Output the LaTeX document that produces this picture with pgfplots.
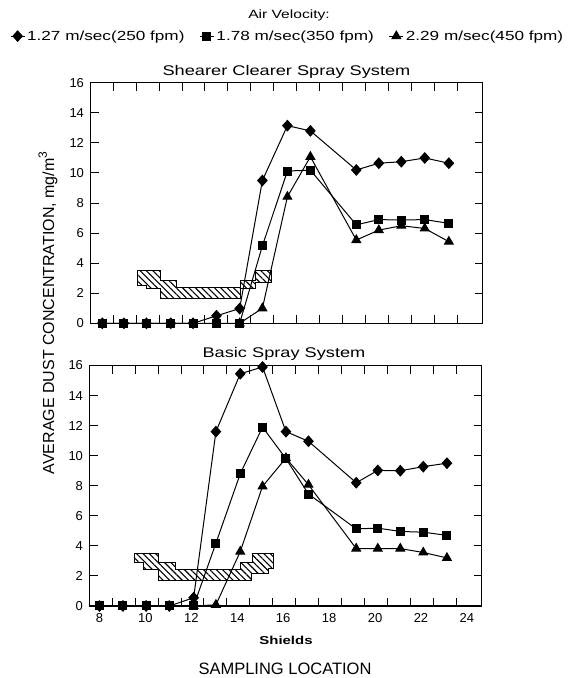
\documentclass[border=0pt]{standalone}
\usepackage{fontspec}
\setmainfont{Liberation Sans}
\newfontfamily\wide{Liberation Sans}[FakeStretch=1.3]
\usepackage{pgfplots}
\pgfplotsset{compat=1.18}
\usetikzlibrary{patterns.meta}

\pgfplotsset{
 dustaxis/.style={
  scale only axis, width=392pt, height=240.5pt, anchor=south west,
  xmin=7.565, xmax=24.635, ymin=0, ymax=16,
  xtick={8,10,...,24},
  minor xtick={8.55,9.55,10.55,11.55,12.55,13.55,14.55,15.55,16.55,17.55,18.55,19.55,20.55,21.55,22.55,23.55},
  major x tick style={draw=none},
  ytick={0,2,...,16},
  major tick length=8pt, minor tick length=8pt,
  tick style={line width=1pt, black},
  axis line style={line width=1.3pt},
  tick label style={font=\fontsize{13}{15}\selectfont},
  /pgf/number format/assume math mode=true,
  yticklabel style={xshift=-3pt},
  xticklabel style={yshift=-4pt},
 },
 ser/.style={black, line width=1pt, mark options={solid, fill=black}},
 hatch/.style={draw=black, line width=1pt, forget plot, mark=none,
   pattern={Lines[angle=-45,distance=4.5pt,line width=1.1pt]}},
}

\begin{document}
\begin{tikzpicture}
\path[use as bounding box] (0,0) rectangle (568pt,678pt);

% ---------- top panel ----------
\begin{axis}[dustaxis, at={(90.5pt,354.7pt)}, xticklabels={},
  legend columns=3,
  legend style={draw=none, fill=none, at={(axis description cs:0.503,1.194)}, anchor=center,
    font=\wide\fontsize{13.2}{15}\selectfont,
    /tikz/every even column/.append style={column sep=13pt}},
  legend image code/.code={\draw[#1, mark repeat=2, mark phase=2] plot coordinates {(0pt,0pt) (7pt,0pt) (14pt,0pt)};}
]
\addplot[hatch] coordinates {(9.6,3.48) (10.63,3.48) (10.63,2.88) (11.3,2.88) (11.3,2.4) (14.08,2.4) (14.08,2.88) (14.73,2.88) (14.73,3.48) (15.45,3.48) (15.45,2.7) (14.73,2.7) (14.73,2.33) (14.08,2.33) (14.08,1.66) (10.63,1.66) (10.63,2.33) (10.0,2.33) (10.0,2.5) (9.6,2.5)} --cycle;
\addplot[ser, mark=diamond*, mark size=5.2pt, mark options={xscale=1.2}] coordinates {
 (8.08,0) (9.02,0) (10.0,0) (11.06,0) (12.03,0) (13.05,0.5) (14.06,0.98) (15.05,9.5) (16.14,13.15) (17.14,12.8)
 (19.14,10.2) (20.12,10.65) (21.1,10.75) (22.12,11.0) (23.17,10.65)};
\addlegendentry{1.27 m/sec(250 fpm)}
\addplot[ser, mark=square*, mark size=4pt] coordinates {
 (8.08,0) (9.02,0) (10.0,0) (11.06,0) (12.03,0) (13.05,0) (14.06,0) (15.05,5.15) (16.14,10.13) (17.14,10.19)
 (19.14,6.55) (20.12,6.9) (21.1,6.87) (22.12,6.9) (23.17,6.65)};
\addlegendentry{1.78 m/sec(350 fpm)}
\addplot[ser, mark=triangle*, mark size=5pt] coordinates {
 (14.06,0) (15.05,1.0) (16.14,8.42) (17.14,11.08)
 (19.14,5.54) (20.12,6.2) (21.1,6.49) (22.12,6.31) (23.17,5.43)};
\addlegendentry{2.29 m/sec(450 fpm)}
\end{axis}

% ---------- bottom panel ----------
\begin{axis}[dustaxis, at={(89.5pt,72pt)}]
\addplot[hatch] coordinates {(9.53,3.47) (10.57,3.47) (10.57,2.89) (11.3,2.89) (11.3,2.44) (14.13,2.44) (14.13,2.89) (14.67,2.89) (14.67,3.47) (15.58,3.47) (15.58,2.51) (15.36,2.51) (15.36,2.18) (14.64,2.18) (14.64,1.69) (10.57,1.69) (10.57,2.44) (9.92,2.44) (9.92,2.89) (9.53,2.89)} --cycle;
\addplot[ser, mark=diamond*, mark size=5.2pt, mark options={xscale=1.2}] coordinates {
 (8,0) (9.02,0) (10.03,0) (11.04,0) (12.1,0.55) (13.07,11.6) (14.13,15.45) (15.1,15.9) (16.12,11.6) (17.1,10.96)
 (19.18,8.2) (20.12,9.02) (21.1,9.0) (22.1,9.27) (23.13,9.5)};
\addplot[ser, mark=square*, mark size=4pt] coordinates {
 (8,0) (9.02,0) (10.03,0) (11.04,0) (12.1,0) (13.07,4.18) (14.13,8.8) (15.1,11.9) (16.12,9.8) (17.1,7.45)
 (19.18,5.13) (20.12,5.18) (21.1,4.96) (22.1,4.91) (23.13,4.7)};
\addplot[ser, mark=triangle*, mark size=5pt] coordinates {
 (12.1,0) (13.07,0.08) (14.13,3.62) (15.1,7.96) (16.12,9.84) (17.1,8.07)
 (19.18,3.82) (20.12,3.82) (21.1,3.82) (22.1,3.56) (23.13,3.2)};
\end{axis}

% ---------- texts ----------
\node[font=\wide\fontsize{12}{14}\selectfont, anchor=base] at (289pt,659pt) {Air Velocity:};
\node[font=\wide\fontsize{14}{16}\selectfont, anchor=base] at (286.5pt,602.5pt) {Shearer Clearer Spray System};
\node[font=\wide\fontsize{14}{16}\selectfont, anchor=base] at (284pt,320pt) {Basic Spray System};
\node[font=\wide\bfseries\fontsize{11.5}{14}\selectfont, anchor=base] at (286pt,33pt) {Shields};
\node[font=\fontsize{16.5}{18}\selectfont, anchor=base] at (285pt,4pt) {SAMPLING LOCATION};
\node[rotate=90, font=\fontsize{16}{18}\selectfont] at (48pt,365pt) {AVERAGE DUST CONCENTRATION, mg/m\raisebox{0.45em}{\fontsize{12}{12}\selectfont 3}};
\end{tikzpicture}
\end{document}
